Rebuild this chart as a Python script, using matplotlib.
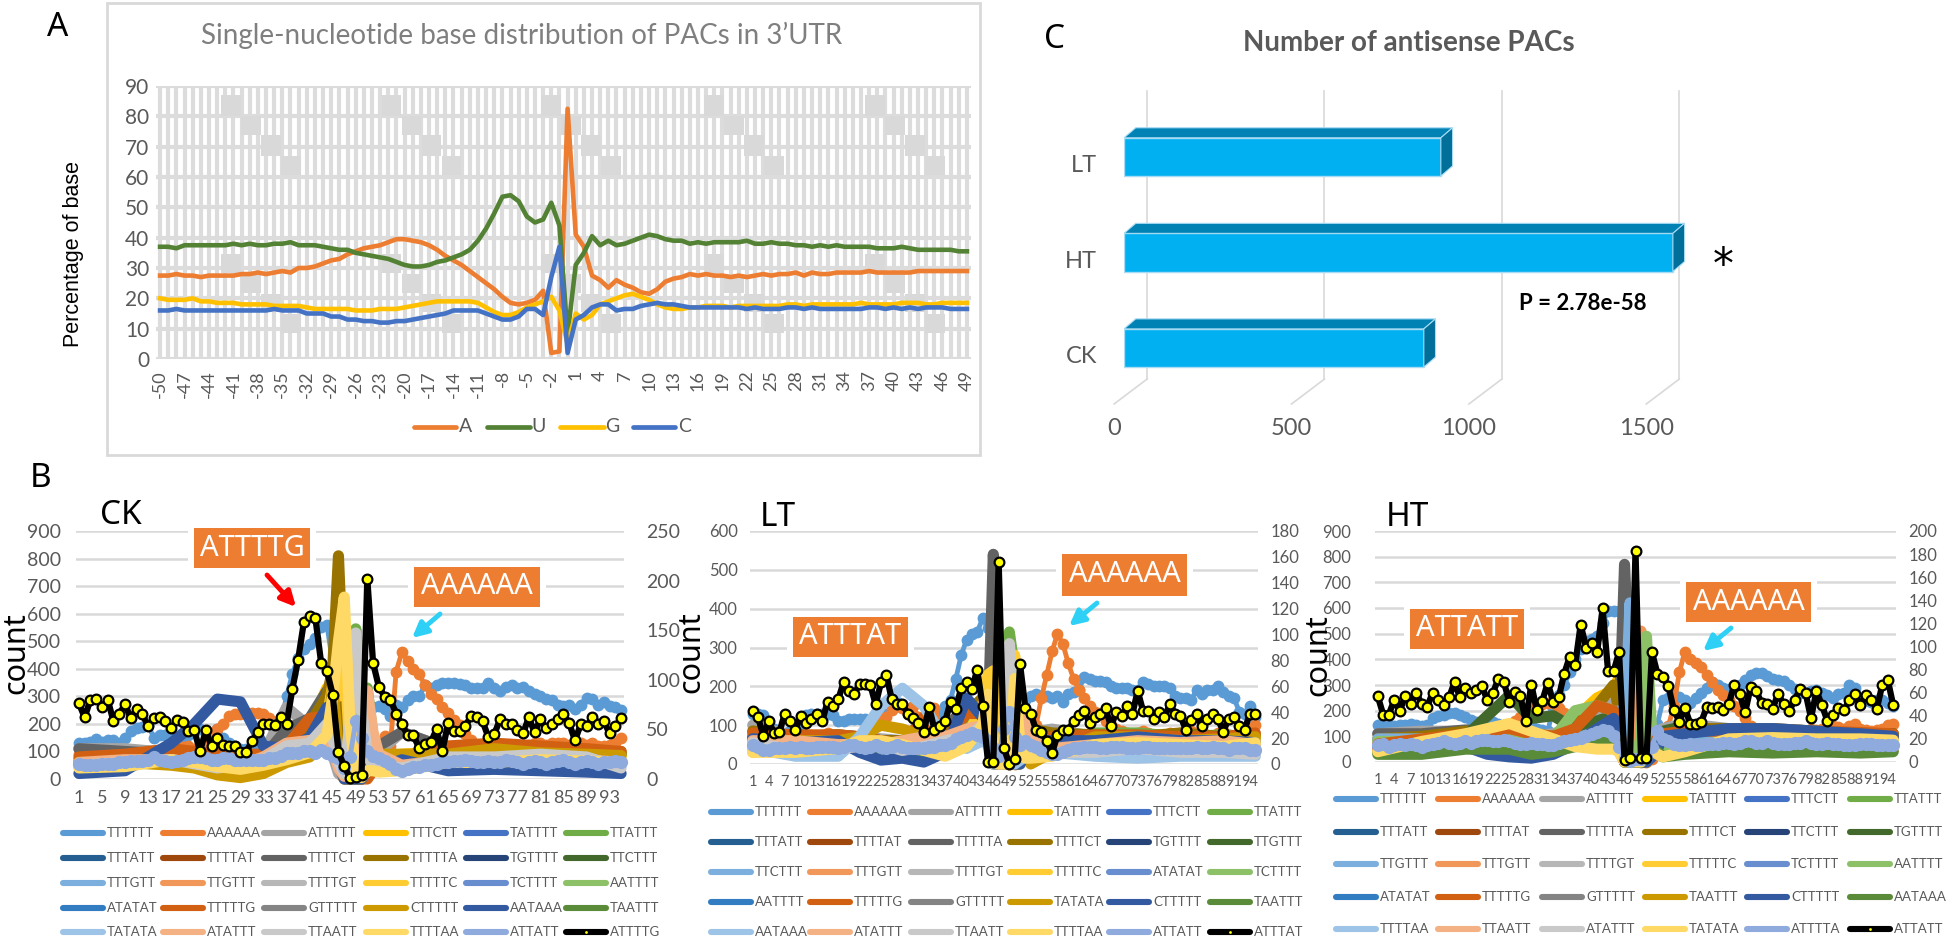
import matplotlib
matplotlib.use('Agg')
import matplotlib.pyplot as plt
import numpy as np
from matplotlib.lines import Line2D
from matplotlib.patches import Polygon, Rectangle

W, H = 1946, 943
plt.rcParams['font.family'] = ['Lato', 'Noto Sans']

# ---------- panel A ----------
a_pos = list(range(-50, 50))
a_A = [27.5,27.5,28,27.5,27.5,27,27.5,27.5,27.5,27.5,
       28,28,28.5,28,28.5,29,28.5,30,30,30.5,
       31.5,32.5,33,34.5,35.5,36.5,37,37.5,38.5,39.5,
       39.5,39,38.5,37.5,36,34,32.5,31,29,27,
       25,23,20.5,18.5,18,18.5,19.5,22.5,2,2.5,
       82.5,41,37,27.5,26,23.5,26,24.5,23.5,22,
       21.5,23,25.5,26.5,27,28,27.5,28,27.5,27.5,
       27,27.5,27,27.5,28,27.5,28,28,28.5,27.5,
       28.5,28,28,28.5,28.5,28.5,28.5,29,28.5,28.5,
       28.5,28.5,28.5,29,29,29,29,29,29,29]
a_U = [37,37,36.5,37.5,37.5,37.5,37.5,37.5,37.5,38,
       37.5,38,37.5,37.5,38,38,38.5,37.5,37.5,37.5,
       37,36.5,36,36,35,34.5,34,33.5,33,32,
       31,30.5,30.5,31,32,32.5,33.5,34.5,36,39,
       43,48,53.5,54,52,47,45,46,51.5,44,
       8,31,35,40.5,37.5,39,37.5,38,39,40,
       41,40.5,39.5,39,39,38,38.5,38,38.5,38.5,
       38.5,38.5,39,38,38,38.5,38,38,37.5,37.5,
       37,37.5,37,37.5,37,37,37,37,36.5,36.5,
       36.5,37,36.5,36,36,36,36,36,35.5,35.5]
a_G = [20,19.5,19.5,19.5,20,19,19,18.5,18.5,18.5,
       18,18,18,18,17.5,17.5,17.5,17.5,17,16.5,
       16.5,16.5,16.5,16.5,16,16,16,16.5,16.5,16.5,
       17,17.5,18,18.5,19,19,19,19,19,18.5,
       17,15.5,14.5,14.5,15.5,17,18,19,20.5,16,
       5,15,13,14.5,18,19,20,21,21.5,20.5,
       19.5,18,17,16.5,16.5,17,17,17.5,17.5,17.5,
       17,17.5,17.5,17.5,17.5,17.5,17.5,18,18,17.5,
       18,18,18,18,18,18,18.5,18,18,18,
       18,18.5,18.5,18.5,18,18,18.5,18.5,18.5,18.5]
a_C = [16,16,16.5,16,16,16,16,16,16,16,
       16,16,16,16,16.5,16,16,16,15,15,
       15,14,14,13,13,12.5,12.5,12,12,12.5,
       12.5,13,13.5,14,14.5,15,16,16,16,16,
       15,14,13,13,14,16.5,16.5,14.5,27,37,
       2,13,14.5,17,18,18,16,16.5,16.5,17.5,
       18,18.5,18,18,17.5,17,17,17,17,17,
       17,17,16.5,17,16.5,16.5,16.5,17,17,16.5,
       17,16.5,16.5,16.5,16.5,16.5,16.5,17,17,16.5,
       17,16.5,17,16.5,17,17,17,16.5,16.5,16.5]
a_yticks = list(range(0, 100, 10))
a_series = [('A', a_A, '#ED7D31'), ('U', a_U, '#548235'),
            ('G', a_G, '#FFC000'), ('C', a_C, '#4472C4')]

# ---------- panel C ----------
c_names = ['CK', 'HT', 'LT']
c_values = [845, 1547, 893]
c_ticks = [0, 500, 1000, 1500]

# ---------- panel B: shared bits ----------
office = ['#5B9BD5','#ED7D31','#A5A5A5','#FFC000','#4472C4','#70AD47',
          '#255E91','#9E480E','#636363','#997300','#264478','#43682B',
          '#7CAFDD','#F1975A','#B7B7B7','#FFCD33','#698ED0','#8CC168',
          '#327DC2','#D26012','#848484','#CC9A00','#335AA1','#5A8B39',
          '#9DC3E6','#F4B183','#C9C9C9','#FFD966','#8FAADC','#000000']
# the crowded background lines can only be read roughly, and only at these positions
bg_x = [1,9,17,21,25, 29,33,37,41,44, 45,46,47,48,49, 50,51,52,53,57, 65,73,81,89,95]

ck_names = ['TTTTTT','AAAAAA','ATTTTT','TTTCTT','TATTTT','TTATTT',
            'TTTATT','TTTTAT','TTTTCT','TTTTTA','TGTTTT','TTCTTT',
            'TTTGTT','TTGTTT','TTTTGT','TTTTTC','TCTTTT','AATTTT',
            'ATATAT','TTTTTG','GTTTTT','CTTTTT','AATAAA','TAATTT',
            'TATATA','ATATTT','TTAATT','TTTTAA','ATTATT','ATTTTG']
lt_names = ['TTTTTT','AAAAAA','ATTTTT','TATTTT','TTTCTT','TTATTT',
            'TTTATT','TTTTAT','TTTTTA','TTTTCT','TGTTTT','TTGTTT',
            'TTCTTT','TTTGTT','TTTTGT','TTTTTC','ATATAT','TCTTTT',
            'AATTTT','TTTTTG','GTTTTT','TATATA','CTTTTT','TAATTT',
            'AATAAA','ATATTT','TTAATT','TTTTAA','ATTATT','ATTTAT']
ht_names = ['TTTTTT','AAAAAA','ATTTTT','TATTTT','TTTCTT','TTATTT',
            'TTTATT','TTTTAT','TTTTTA','TTTTCT','TTCTTT','TGTTTT',
            'TTGTTT','TTTGTT','TTTTGT','TTTTTC','TCTTTT','AATTTT',
            'ATATAT','TTTTTG','GTTTTT','TAATTT','CTTTTT','AATAAA',
            'TTTTAA','TTAATT','ATATTT','TATATA','ATTTTA','ATTATT']

# CK
ck_t6 = [130,130,135,145,135,140,140,130,150,175,185,190,195,150,160,160,150,150,155,160,
         170,180,170,160,180,150,130,120,110,110,120,110,100,100,110,200,300,380,440,470,
         490,510,550,560,420,300,100,20,5,20,120,260,265,255,230,270,260,285,300,300,
         340,330,340,350,350,350,345,340,330,330,330,350,330,320,335,340,330,335,320,310,
         300,290,285,270,265,270,255,270,295,290,270,280,265,260,250]
ck_a6 = [90,90,95,90,90,85,85,90,95,95,100,100,100,100,100,100,100,110,115,120,
         110,120,130,150,180,200,230,235,235,240,240,240,235,220,200,180,150,150,140,130,
         125,125,120,120,100,60,30,10,5,5,20,40,80,155,120,390,460,430,400,380,
         340,310,290,260,240,215,195,165,140,125,120,120,115,115,120,120,125,125,125,130,
         130,125,130,130,130,125,130,130,125,130,120,120,125,130,150]
ck_top = [55,50,50,50,55,55,55,60,60,65,65,65,70,80,70,65,60,65,70,75,
          80,80,75,70,70,75,75,70,70,70,70,70,70,75,75,85,95,95,95,100,
          100,95,105,95,85,75,40,80,210,150,100,85,75,65,55,35,30,35,45,45,
          50,50,55,60,60,65,65,70,65,60,60,65,60,60,70,65,60,55,60,65,
          60,55,60,65,70,60,55,60,65,60,55,60,60,65,60]
ck_black = [76.5,62,80,80.5,73,80,58,65.5,75.5,61,70.5,65.5,53,61,63,58,51,59,57,48,
            49,28,49,33,41,34.5,33,33,27,27,38,47,55,55,54,62,55,90.5,120,158,
            164,162,117,109,85,27,13,1,2,4,202,117,93,83,80,66,55,44,44,31,
            35,37,50,28,56,48,48,53,64,62,58,42,45,60,55,55,49,46,62,47,
            60,51,55,60,66,56,39,55,53,62,55,58,46,53,61]
ck_ttttta = [60,80,90,70,50, 40,70,110,200,300, 400,810,300,40,5, 5,20,60,80,60, 90,100,95,90,100]
ck_ttttaa = [40,45,70,60,45, 35,50,70,95,160, 300,500,660,200,10, 5,30,30,25,30, 60,60,70,65,60]
ck_tttttc = [45,60,70,55,40, 45,60,90,120,220, 340,300,450,100,10, 5,40,40,60,70, 75,80,80,75,80]
ck_ttattt = [70,85,90,60,50, 50,70,150,180,220, 180,100,20,100,545, 300,330,150,60,60, 110,105,110,100,90]
ck_ttaatt = [50,60,70,55,40, 50,70,120,130,200, 150,60,20,200,530, 250,100,40,50,40, 80,80,90,80,40]
ck_atattt = [60,70,70,60,50, 50,80,130,140,140, 110,40,10,60,120, 200,320,170,90,50, 70,70,80,70,60]
ck_attttt = [110,110,95,80,70, 70,90,260,190,130, 90,20,5,0,0, 0,40,70,100,170, 110,110,105,95,60]
ck_ttttct = [110,100,90,80,70, 70,80,180,220,320, 300,100,5,0,0, 0,10,80,120,170, 110,120,110,100,90]
ck_tttttg = [80,90,110,100,90, 90,90,120,220,230, 160,50,0,0,40, 0,0,30,70,80, 120,130,120,110,100]
ck_aataaa = [20,30,130,200,290, 280,120,110,150,260, 200,60,0,0,0, 0,30,60,40,70, 30,35,30,25,20]
ck_cttttt = [60,60,50,40,15, 5,20,60,80,140, 340,100,0,0,0, 0,40,40,90,90, 90,110,95,90,85]
ck_tttctt = [45,65,90,70,40, 40,60,150,190,330, 280,100,5,0,100, 200,60,30,80,90, 100,110,110,100,90]
ck_background = {'ATTTTT': ck_attttt, 'TTTCTT': ck_tttctt, 'TTATTT': ck_ttattt, 'TTTTCT': ck_ttttct,
                 'TTTTTA': ck_ttttta, 'TTTTTC': ck_tttttc, 'TTTTTG': ck_tttttg, 'CTTTTT': ck_cttttt,
                 'AATAAA': ck_aataaa, 'ATATTT': ck_atattt, 'TTAATT': ck_ttaatt, 'TTTTAA': ck_ttttaa}

# LT
lt_t6 = [130,130,125,100,90,85,80,85,90,95,125,130,130,130,130,125,110,110,115,115,
         115,115,110,100,110,130,150,160,150,130,120,110,105,100,110,125,150,165,220,280,
         320,335,340,375,350,250,120,60,30,20,60,165,175,180,175,175,170,175,160,180,
         185,190,225,220,215,215,210,200,195,195,195,190,190,210,205,200,200,200,195,175,
         170,170,165,190,180,190,190,200,185,175,170,135,130,150,120]
lt_a6 = [75,80,70,75,70,75,70,75,70,70,75,75,70,75,80,75,60,55,50,50,
         50,50,80,100,110,120,140,150,145,130,150,120,110,120,145,100,100,110,120,125,
         140,130,140,110,90,50,20,5,0,0,10,30,60,100,170,230,290,335,310,260,
         220,190,170,150,135,130,110,100,90,85,80,75,80,85,80,75,70,75,80,75,
         80,85,85,80,75,75,70,80,85,75,70,80,80,85,100]
lt_top = [50,45,35,35,40,40,40,45,40,45,40,40,45,45,45,45,40,45,50,50,
          45,40,45,50,45,40,45,50,45,40,40,40,40,45,45,50,50,55,65,70,
          75,80,75,70,60,40,20,90,135,70,50,60,50,45,35,30,25,25,30,35,
          40,40,45,45,45,40,40,45,45,45,40,40,40,45,45,40,40,40,40,40,
          40,40,40,45,40,40,45,40,40,35,40,40,40,35,35]
lt_black = [41,36,22,33,24,24.5,39,33,26.5,37,32,35,39,33,48,44.5,50,63,56.5,54,
            62,62,61,46,63,69,50,46,46,39,35.5,32,25,44,26.5,29,33,48,42.5,59,
            63,58,73,44.5,1.5,1.5,156,12,0,4,77,43,39,26,24.5,17.5,8.5,22.5,26.5,26,
            33,38,41,31.5,36,39,43,29,40,37,44.5,38.5,56.5,41,41,35,40,36,46,39,
            37,26.5,34,39,29,35,39,35,25,35,36,29,26.5,39,39]
lt_ttttta = [70,70,75,70,60, 60,60,90,150,130, 100,540,230,0,0, 0,30,60,80,70, 60,70,70,70,60]
lt_ttattt = [60,65,70,50,40, 30,30,60,110,130, 100,60,0,20,340, 240,80,40,40,50, 80,80,70,75,70]
lt_ttaatt = [55,35,40,45,50, 35,45,60,70,100, 100,50,10,60,310, 130,50,30,30,30, 30,40,30,30,25]
lt_tttttc = [30,45,40,50,50, 30,40,50,70,150, 230,240,70,0,30, 280,70,20,10,25, 45,55,55,50,60]
lt_ttttaa = [30,30,40,60,60, 50,35,20,45,100, 180,60,0,0,0, 220,50,15,15,20, 50,55,50,45,55]
lt_aataaa = [40,20,20,70,150, 195,150,60,40,60, 50,0,0,0,0, 0,10,20,40,30, 20,15,20,20,20]
lt_tatata = [60,60,60,70,100, 90,70,60,50,90, 150,30,0,0,0, 0,10,20,0,30, 70,70,60,65,70]
lt_cttttt = [65,55,60,30,10, 15,5,30,170,120, 100,10,0,0,0, 0,0,30,60,60, 60,70,60,60,55]
lt_atattt = [60,60,50,50,50, 60,70,70,90,100, 70,10,0,0,30, 120,160,110,60,40, 50,60,55,60,50]
lt_attttt = [100,70,70,70,65, 60,60,80,100,140, 100,0,0,0,0, 0,0,50,80,90, 70,75,70,70,60]
lt_ttttct = [85,70,75,70,60, 60,60,70,130,170, 120,0,0,0,0, 0,0,50,90,80, 75,70,80,70,75]
lt_tttttg = [80,75,75,70,60, 50,120,60,130,130, 100,10,0,0,0, 0,20,50,60,70, 75,75,70,70,80]
lt_background = {'ATTTTT': lt_attttt, 'TTATTT': lt_ttattt, 'TTTTTA': lt_ttttta, 'TTTTCT': lt_ttttct,
                 'TTTTTC': lt_tttttc, 'TTTTTG': lt_tttttg, 'TATATA': lt_tatata, 'CTTTTT': lt_cttttt,
                 'AATAAA': lt_aataaa, 'ATATTT': lt_atattt, 'TTAATT': lt_ttaatt, 'TTTTAA': lt_ttttaa}

# HT
ht_t6 = [145,145,145,140,145,145,150,145,140,145,170,180,185,190,190,185,175,165,155,160,
         160,155,150,145,140,150,130,160,150,130,125,120,210,260,300,350,400,440,470,480,
         490,540,590,590,590,600,300,100,20,10,60,150,240,250,260,255,240,230,250,270,
         290,310,300,290,285,290,300,320,340,345,345,335,325,320,315,300,285,270,270,275,
         280,270,260,250,265,270,300,290,240,240,235,240,240,230,220]
ht_a6 = [85,85,90,85,85,80,85,85,80,85,90,90,90,95,95,95,100,105,105,100,
         110,120,130,140,150,160,175,190,200,220,225,230,230,210,190,170,140,130,130,130,
         130,120,110,90,60,30,10,5,0,0,10,30,60,140,220,350,430,400,385,370,
         340,310,280,260,240,220,200,170,140,130,120,115,115,110,115,120,120,125,120,130,
         125,130,130,140,135,130,140,150,130,125,120,125,130,145,150]
ht_top = [65,70,60,65,70,65,70,65,60,65,70,75,80,75,70,75,80,75,80,85,
          85,80,80,85,80,75,70,70,75,70,70,65,65,75,80,85,90,95,100,110,
          115,125,120,100,60,15,5,10,10,20,60,120,90,80,70,65,65,70,65,65,
          70,70,70,75,75,70,75,80,80,75,75,80,75,70,70,70,75,75,80,75,
          70,70,75,70,70,65,65,65,70,70,70,65,65,65,65]
ht_black = [57,41,41,53.5,44,57,50.5,60,50.5,47.5,60,54,49,56,69,56,64,60,62,65.5,
            53.5,60,72,69,52,61,57,35.5,67,45,53,68.5,52,56,76.5,91,84,119,99,103,
            95,133,78.5,78.5,95,2,3.5,183,3.5,3.5,95,76.5,73.5,65.5,45,35,47,33,33,35,
            47.5,47,47.5,45,50,67,58.5,43,65,61.5,51,50,46,59,50,44,53.5,63,60,38,
            61.5,49,35.5,41,47,45,53.5,59,49,58,53.5,46,67,71,49]
ht_ttttta = [110,110,125,115,100, 60,90,110,120,150, 130,770,300,0,0, 0,30,90,90,110, 120,110,110,105,95]
ht_ttgttt = [90,90,90,90,80, 70,70,90,120,170, 200,100,620,100,0, 0,20,40,50,70, 90,100,90,85,70]
ht_tttgtt = [50,50,60,60,70, 50,70,80,100,70, 40,0,0,100,510, 200,120,50,30,40, 60,55,60,50,45]
ht_aatttt = [80,80,90,100,90, 80,90,200,220,200, 100,0,0,0,100, 490,100,40,40,60, 80,85,80,85,80]
ht_tgtttt = [40,60,100,180,260, 170,180,130,160,180, 100,0,0,0,0, 0,30,90,120,140, 110,120,110,100,110]
ht_tatata = [40,80,110,130,150, 120,90,60,50,50, 40,0,0,0,0, 40,50,30,20,40, 90,95,90,90,85]
ht_ttttct = [90,100,120,120,110, 110,100,160,220,300, 200,20,0,0,0, 0,30,100,110,130, 130,130,120,110,110]
ht_tatttt = [60,110,100,110,120, 90,80,170,250,280, 330,70,0,0,0, 0,60,30,80,90, 110,120,110,105,100]
ht_cttttt = [60,60,60,30,20, 15,30,70,130,170, 130,0,0,0,0, 0,20,50,100,110, 130,130,120,110,100]
ht_aataaa = [30,30,50,50,50, 30,40,60,70,100, 60,0,0,0,0, 20,40,40,20,30, 40,35,40,35,40]
ht_tttttg = [70,90,110,120,130, 110,100,130,220,200, 140,0,0,0,0, 0,30,100,110,120, 120,125,120,115,110]
ht_attttt = [110,120,120,120,110, 100,110,140,190,230, 150,0,0,0,0, 0,60,120,130,150, 130,130,120,110,100]
ht_background = {'ATTTTT': ht_attttt, 'TATTTT': ht_tatttt, 'TTTTTA': ht_ttttta, 'TTTTCT': ht_ttttct,
                 'TGTTTT': ht_tgtttt, 'TTGTTT': ht_ttgttt, 'TTTGTT': ht_tttgtt, 'AATTTT': ht_aatttt,
                 'TTTTTG': ht_tttttg, 'CTTTTT': ht_cttttt, 'AATAAA': ht_aataaa, 'TATATA': ht_tatata}


def fx(x):
    return x / W


def fy(y):
    return 1 - y / H


def axes_px(fig, x0, y0, x1, y1):
    return fig.add_axes([fx(x0), fy(y1), fx(x1) - fx(x0), fy(y0) - fy(y1)])


def ftext(fig, x, y, s, **kw):
    kw.setdefault('ha', 'center')
    kw.setdefault('va', 'center')
    return fig.text(fx(x), fy(y), s, **kw)


def fline(fig, xs, ys, **kw):
    fig.add_artist(Line2D([fx(x) for x in xs], [fy(y) for y in ys], transform=fig.transFigure, **kw))


def panel_a(fig):
    fig.add_artist(Rectangle((fx(107), fy(455)), fx(873), 452 / H, transform=fig.transFigure,
                             fc='white', ec='#d9d9d9', lw=2, zorder=-1))
    ax = axes_px(fig, 156, 86, 971, 359)
    ax.set_xlim(-50.5, 49.5)
    ax.set_ylim(0, 90)
    ax.patch.set_alpha(0)
    for x in a_pos:
        ax.axvline(x, color='#dcdcdc', lw=3, zorder=1)
    for y in a_yticks:
        ax.axhline(y, color='#dcdcdc', lw=3, zorder=1)
    # pale grey blocks lying behind the lines
    for bx in [-42.5, -22.8, -3.2, 16.8, 36.5]:
        for k, (top, low) in enumerate([(87, 80), (80, 73.7), (73.7, 67), (67, 60.5),
                                        (34.5, 28.2), (28, 21.8), (21.5, 15.5), (15, 8.5)]):
            ax.add_patch(Rectangle((bx + (k % 4) * 2.45, low), 2.4, top - low, fc='#d9d9d9', ec='none', zorder=1.5))
    for name, vals, col in a_series:
        ax.plot(a_pos, vals, color=col, lw=3.3, zorder=3, solid_joinstyle='round')
    for s in ax.spines.values():
        s.set_visible(False)
    ax.set_xticks(a_pos[::3])
    ax.set_xticklabels([str(p) for p in a_pos[::3]], rotation=90, fontsize=13, color='#595959')
    ax.set_yticks(a_yticks)
    ax.tick_params(length=0, pad=8)
    ax.tick_params(axis='y', labelsize=15, labelcolor='#595959', pad=5)
    ftext(fig, 522, 35, "Single-nucleotide base distribution of PACs in 3’UTR", fontsize=20, color='#7f7f7f')
    ftext(fig, 74, 254, 'Percentage of base', rotation=90, fontsize=15.5, family='Liberation Sans')
    for (x0, x1, tx), (name, vals, col) in zip([(414, 456, 466), (487, 530, 539), (560, 604, 612), (633, 675, 685)], a_series):
        fline(fig, [x0, x1], [427, 427], color=col, lw=3.4, solid_capstyle='round')
        ftext(fig, tx, 427, name, fontsize=14, color='#595959')


def panel_c(fig):
    # one value unit is 0.3548 px, the axes start at the front face of the bars
    ax = axes_px(fig, 1124, 91, 1724, 404)
    ax.set_xlim(0, 600 / 0.3548)
    ax.set_ylim(-0.586, 2.69)
    ax.axis('off')
    pos = np.arange(len(c_names))
    back = 65
    front = -28
    for t in c_ticks:
        ax.plot([t + back, t + back], [-0.325, 2.69], color='#d9d9d9', lw=1.2, clip_on=False, zorder=1)
        ax.plot([t + back, t + front], [-0.325, -0.586], color='#d9d9d9', lw=1.2, clip_on=False, zorder=1)
        ax.text(t + front, -0.84, str(t), ha='center', va='center', fontsize=17, color='#595959', clip_on=False)
    h = 0.4
    dx, dy = 33, 0.105
    ax.barh(pos, c_values, height=h, color='#00B0F0', edgecolor='#a8dcf5', lw=1, zorder=3)
    for p, v in zip(pos, c_values):
        t = p + h / 2
        b = p - h / 2
        ax.add_patch(Polygon([(0, t), (dx, t + dy), (v + dx, t + dy), (v, t)], fc='#0082B4', ec='#a8dcf5', lw=0.8, zorder=3))
        ax.add_patch(Polygon([(v, t), (v + dx, t + dy), (v + dx, b + dy), (v, b)], fc='#006F9A', ec='#a8dcf5', lw=0.8, zorder=3))
    for name, y in zip(c_names, [348, 253, 157]):
        ftext(fig, 1097, y + 9, name, ha='right', fontsize=17, color='#595959')
    ftext(fig, 1409, 43, 'Number of antisense PACs', fontsize=20, color='#595959', fontweight='bold')
    ftext(fig, 1583, 303, 'P = 2.78e-58', fontsize=16, color='black', fontweight='bold')
    ftext(fig, 1723, 266, '*', fontsize=30, color='black', family='DejaVu Sans')


def panel_b(fig, rect, names, black, t6, a6, top, background, yticks, rticks, xstep,
            sizes, pads, legend_x, legend_y):
    ax = axes_px(fig, *rect)
    ax.set_xlim(0.5, 95.5)
    ax.set_ylim(0, yticks[-1])
    for s in ax.spines.values():
        s.set_visible(False)
    ax.set_yticks(yticks)
    ax.grid(axis='y', color='#d9d9d9', lw=1.8)
    ax.set_axisbelow(True)
    x95 = np.arange(1, 96)
    ax.set_xticks(x95[::xstep])
    ax.tick_params(axis='x', length=0, labelsize=sizes[0], labelcolor='#595959', pad=8)
    ax.tick_params(axis='y', length=0, labelsize=sizes[1], labelcolor='#595959', pad=pads[0])

    col = dict(zip(names, office))
    ax.plot(x95, t6, color=col['TTTTTT'], lw=3.5, marker='o', ms=7.5, clip_on=False, zorder=2)
    ax.plot(x95, a6, color=col['AAAAAA'], lw=3.5, marker='o', ms=7.5, clip_on=False, zorder=2.1)
    for i, (name, vals) in enumerate(background.items()):
        ax.plot(bg_x, vals, color=col[name], lw=8, solid_joinstyle='round', solid_capstyle='round',
                clip_on=False, zorder=2.2 + i * 0.01)
    ax.plot(x95, top, color=col[names[28]], lw=3.5, marker='o', ms=8.5, clip_on=False, zorder=2.5)

    ax2 = ax.twinx()
    ax2.set_ylim(0, rticks[-1])
    for s in ax2.spines.values():
        s.set_visible(False)
    ax2.set_yticks(rticks)
    ax2.tick_params(length=0, labelsize=sizes[1], labelcolor='#595959', pad=pads[1])
    ax2.plot(x95, black, color='black', lw=4.5, marker='o', ms=7, mfc='#FFFF00', mec='black',
             mew=1.6, clip_on=False, zorder=5)

    for r, yy in enumerate(legend_y):
        for c, xx in enumerate(legend_x):
            k = r * 6 + c
            fline(fig, [xx + 3, xx + 43], [yy, yy], color=office[k], lw=4.4, solid_capstyle='round')
            if k == 29:
                fline(fig, [xx + 23], [yy], color='#FFFF00', marker='o', ms=1, lw=0)
            ftext(fig, xx + 47, yy, names[k], ha='left', fontsize=9.5, color='#595959')


def box(fig, x0, y0, x1, y1, s, size):
    fig.add_artist(Rectangle((fx(x0 - 6), fy(y1 + 3)), (x1 - x0 + 12) / W, (y1 - y0 + 6) / H, transform=fig.transFigure,
                             fc='white', ec='none', zorder=5.9))
    fig.add_artist(Rectangle((fx(x0), fy(y1)), (x1 - x0) / W, (y1 - y0) / H, transform=fig.transFigure,
                             fc='#ED7D31', ec='none', zorder=6))
    ftext(fig, (x0 + x1) / 2, (y0 + y1) / 2, s, color='white', fontsize=size, zorder=7, family='Noto Sans')


def arrow(fig, x0, y0, x1, y1, col):
    ann = fig.add_artist(plt.Annotation('', xy=(fx(x1), fy(y1)), xytext=(fx(x0), fy(y0)),
                                        xycoords='figure fraction', textcoords='figure fraction',
                                        arrowprops=dict(arrowstyle='-|>,head_width=0.45,head_length=0.9', color=col, lw=3.5, shrinkA=0, shrinkB=0)))
    ann.set_zorder(7)


fig = plt.figure(figsize=(W / 100, H / 100), dpi=100, facecolor='white')
panel_a(fig)
panel_c(fig)

panel_b(fig, (76, 531, 624, 779), ck_names, ck_black, ck_t6, ck_a6, ck_top, ck_background,
        list(range(0, 901, 100)), list(range(0, 251, 50)), 4, (13, 14), (11, 16),
        [60, 160, 261, 363, 463, 563], [833, 858, 883, 908, 932])
panel_b(fig, (750, 531, 1258, 764), lt_names, lt_black, lt_t6, lt_a6, lt_top, lt_background,
        list(range(0, 601, 100)), list(range(0, 181, 20)), 3, (10.5, 12), (9, 9),
        [708, 807, 908, 1007, 1106, 1207], [812, 842, 872, 902, 932])
panel_b(fig, (1375, 531, 1896, 762), ht_names, ht_black, ht_t6, ht_a6, ht_top, ht_background,
        list(range(0, 901, 100)), list(range(0, 201, 20)), 3, (10.5, 12), (17, 9),
        [1333, 1435, 1539, 1642, 1744, 1847], [799, 832, 864, 897, 929])

box(fig, 194, 528, 310, 568, 'ATTTTG', 21)
box(fig, 414, 567, 540, 607, 'AAAAAA', 21)
box(fig, 793, 617, 908, 657, 'ATTTAT', 21)
box(fig, 1062, 554, 1187, 596, 'AAAAAA', 21)
box(fig, 1410, 609, 1524, 649, 'ATTATT', 21)
box(fig, 1686, 582, 1811, 622, 'AAAAAA', 21)
arrow(fig, 267, 575, 296, 607, '#FF0000')
arrow(fig, 440, 614, 412, 638, '#2FD0F5')
arrow(fig, 1097, 603, 1069, 626, '#2FD0F5')
arrow(fig, 1731, 628, 1703, 651, '#2FD0F5')

for x, y, s in [(121, 515, 'CK'), (778, 517, 'LT'), (1407, 517, 'HT')]:
    ftext(fig, x, y, s, fontsize=24, color='black', family='Noto Sans')
for x, y in [(16, 653), (691, 652), (1318, 655)]:
    ftext(fig, x, y, 'count', rotation=90, fontsize=22, color='black', family='Noto Sans')
for x, y, s in [(58, 27, 'A'), (41, 478, 'B'), (1055, 40, 'C')]:
    ftext(fig, x, y, s, fontsize=24, color='black', family='Noto Sans')

fig.savefig('out.png', dpi=100)
